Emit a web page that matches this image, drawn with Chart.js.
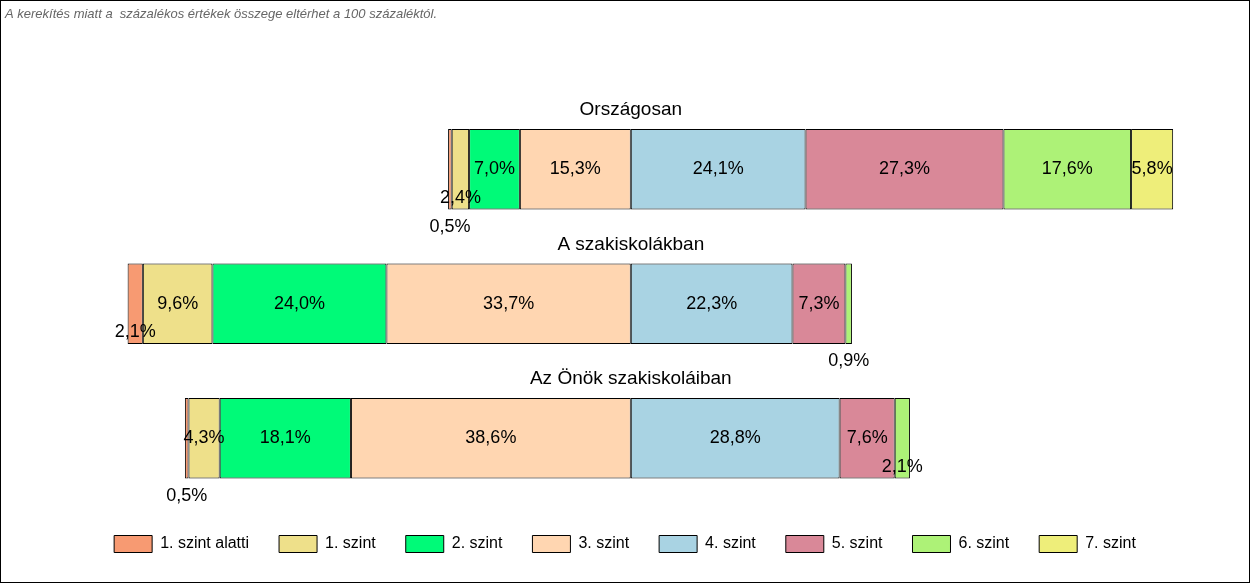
<!DOCTYPE html>
<html>
<head>
<meta charset="utf-8">
<script src="https://cdn.jsdelivr.net/npm/chart.js@4"></script>
<style>
  body { margin: 0; background: #fff; }
</style>
</head>
<body>
<canvas id="chart" width="1250" height="583"></canvas>
<script>
const groups = ["Országosan", "A szakiskolákban", "Az Önök szakiskoláiban"];
const levels = ["1. szint alatti", "1. szint", "2. szint", "3. szint", "4. szint", "5. szint", "6. szint", "7. szint"];
const colors = ["#F79A72", "#EEE08A", "#00FA78", "#FFD6B1", "#A9D3E3", "#D98898", "#ADF277", "#EEEE7A"];

const below1 = [0.5, 2.1, 0.5];
const level1 = [2.4, 9.6, 4.3];
const level2 = [7.0, 24.0, 18.1];
const level3 = [15.3, 33.7, 38.6];
const level4 = [24.1, 22.3, 28.8];
const level5 = [27.3, 7.3, 7.6];
const level6 = [17.6, 0.9, 2.1];
const level7 = [5.8, 0.0, 0.0];

const note = "A kerekítés miatt a  százalékos értékek összege eltérhet a 100 százaléktól.";

const neg = arr => arr.map(v => -v);

// stacking order: negatives closest to zero first
function ds(idx, values) {
  return {
    label: levels[idx],
    rank: idx,
    data: values,
    backgroundColor: colors[idx],
    borderColor: "#000",
    borderWidth: 1,
    borderSkipped: false,
    barPercentage: 1,
    categoryPercentage: 0.6
  };
}

const datasets = [
  ds(3, neg(level3)), ds(2, neg(level2)), ds(1, neg(level1)), ds(0, neg(below1)),
  ds(4, level4), ds(5, level5), ds(6, level6), ds(7, level7)
];

const fmt = v => v.toFixed(1).replace(".", ",") + "%";

const labelPlugin = {
  id: "labels",
  beforeInit(chart) {
    const orig = chart.legend ? null : null;
  },
  afterDatasetsDraw(chart) {
    const ctx = chart.ctx;
    ctx.save();
    ctx.fillStyle = "#000";
    ctx.font = "18px 'Liberation Sans', Arial, sans-serif";
    ctx.textAlign = "center";
    ctx.textBaseline = "middle";
    chart.data.datasets.forEach((d, di) => {
      const meta = chart.getDatasetMeta(di);
      meta.data.forEach((bar, i) => {
        const v = Math.abs(d.data[i]);
        if (!v) return;
        const w = Math.abs(bar.x - bar.base);
        const cx = (bar.x + bar.base) / 2;
        const bottom = bar.y + bar.height / 2;
        let y = bar.y;
        if (w < 12) y = bottom + 17;
        else if (w < 25) y = bottom - 12;
        ctx.fillText(fmt(v), cx, y);
      });
    });
    // group titles
    const xs = chart.scales.x, ys = chart.scales.y;
    ctx.font = "19px 'Liberation Sans', Arial, sans-serif";
    groups.forEach((g, i) => {
      const bar = chart.getDatasetMeta(0).data[i];
      ctx.fillText(g, xs.getPixelForValue(0), bar.y - bar.height / 2 - 19);
    });
    ctx.restore();
  },
  afterDraw(chart) {
    const ctx = chart.ctx;
    ctx.save();
    ctx.fillStyle = "#666";
    ctx.font = "italic 13px 'Liberation Sans', Arial, sans-serif";
    ctx.textBaseline = "middle";
    ctx.fillText(note, 5, 14);
    ctx.strokeStyle = "#000";
    ctx.lineWidth = 1;
    ctx.strokeRect(0.5, 0.5, chart.width - 1, chart.height - 1);
    ctx.restore();
  }
};

const legendFit = {
  id: "legendFit",
  beforeInit(chart) {
    const fit = chart.legend.fit;
    chart.legend.fit = function () {
      fit.bind(chart.legend)();
      this.height = 77.5;
    };
  }
};

new Chart(document.getElementById("chart"), {
  type: "bar",
  data: { labels: groups, datasets: datasets },
  options: {
    indexAxis: "y",
    responsive: false,
    animation: false,
    devicePixelRatio: 1,
    layout: { padding: { top: 102, bottom: 0, left: 0, right: 0 } },
    scales: {
      x: { stacked: true, display: false, min: -87, max: 85.4 },
      y: { stacked: true, display: false }
    },
    plugins: {
      tooltip: { enabled: false },
      legend: {
        position: "bottom",
        labels: {
          boxWidth: 38,
          boxHeight: 17,
          padding: 30,
          color: "#000",
          font: { size: 16, family: "'Liberation Sans', Arial, sans-serif" },
          sort: (a, b) => datasets[a.datasetIndex].rank - datasets[b.datasetIndex].rank
        }
      }
    }
  },
  plugins: [labelPlugin, legendFit]
});
</script>
</body>
</html>
